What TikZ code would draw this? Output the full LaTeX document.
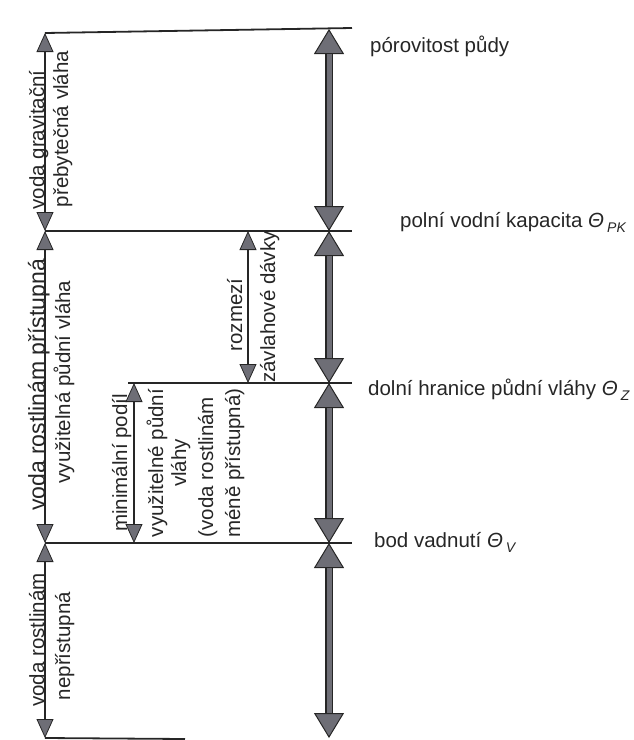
\documentclass[tikz,border=0pt]{standalone}
\usepackage{fontspec}
\setmainfont{Liberation Sans}
\usepackage{xcolor}
\usetikzlibrary{arrows.meta, positioning}

\definecolor{tipgray}{HTML}{6E6E76}
\definecolor{inkdark}{HTML}{262626}

\newcommand{\thetaidx}[1]{\textit{Θ}\hspace{3pt}\raisebox{-5.5pt}{\fontsize{14}{14}\selectfont\textit{#1}}}

\begin{document}
\begin{tikzpicture}[
  x=1pt, y=-1pt,
  font=\fontsize{20.5}{24}\selectfont,
  bigtip/.tip={Triangle[width=30pt, length=25pt, fill=tipgray, line width=1pt]},
  smalltip/.tip={Triangle[width=17pt, length=19pt, fill=tipgray, line width=0.8pt]},
  level/.style={draw=inkdark, line width=1.8pt},
  bigarr/.style={draw=inkdark, line width=8pt, bigtip-bigtip,
                 postaction={draw=tipgray, line width=5pt, -,
                             shorten <=25pt, shorten >=25pt}},
  smallarr/.style={draw=inkdark, line width=2pt, smalltip-smalltip},
  vlab/.style={rotate=90, anchor=base, inner sep=0pt, text=inkdark},
  hlab/.style={anchor=base west, inner sep=0pt, text=inkdark},
]
\useasboundingbox (0,0) rectangle (633,740);

%% ---------- Level coordinates -----------------------------------
\coordinate (l0) at (45,33);    % left scale
\coordinate (l1) at (45,231);
\coordinate (l3) at (45,543);
\coordinate (l4) at (45,738);
\coordinate (r0) at (329,29);   % right scale
\coordinate (r1) at (329,231);
\coordinate (r2) at (329,383);
\coordinate (r3) at (329,543);
\coordinate (r4) at (329,738);
\coordinate (e0) at (352,28);   % line ends
\coordinate (e1) at (352,231);
\coordinate (e2) at (352,383);
\coordinate (e3) at (352,543);
\coordinate (s2) at (128,383);
\coordinate (b4) at (185,739);
\coordinate (m1) at (248,231);  % irrigation range
\coordinate (m2) at (248,383);
\coordinate (n2) at (134,383);  % minimal share
\coordinate (n3) at (134,543);

%% ---------- Level lines -----------------------------------------
\draw[level] (l0) -- (e0);
\draw[level] (l1) -- (e1);
\draw[level] (s2) -- (e2);
\draw[level] (l3) -- (e3);
\draw[level] (l4) -- (b4);

%% ---------- Right scale -----------------------------------------
\draw[bigarr] (r0) -- (r1);
\draw[bigarr] (r1) -- (r2);
\draw[bigarr] (r2) -- (r3);
\draw[bigarr] (r3) -- (r4);

%% ---------- Left scale and inner ranges -------------------------
\draw[smallarr] (l0) -- (l1);
\draw[smallarr] (l1) -- (l3);
\draw[smallarr] (l3) -- (l4);
\draw[smallarr] (m1) -- (m2);
\draw[smallarr] (n2) -- (n3);

%% ---------- Level labels ----------------------------------------
\node[hlab] (por) at (370,52)  {pórovitost půdy};
\node[hlab] (pvk) at (400,227) {polní vodní kapacita \thetaidx{PK}};
\node[hlab] (dhv) at (368,395) {dolní hranice půdní vláhy \thetaidx{Z}};
\node[hlab] (bv)  at (374,547) {bod vadnutí \thetaidx{V}};

%% ---------- Rotated labels --------------------------------------
\node[vlab] (grav1) at (44,140) {voda gravitační};
\node[vlab] (grav2) at (68,129) {přebytečná vláha};
\node[vlab, font=\fontsize{23}{26}\selectfont] (prist1) at (45,385)
      {voda rostlinám přístupná};
\node[vlab] (prist2) at (70,382) {využitelná půdní vláha};
\node[vlab] (nepr1) at (44,640) {voda rostlinám};
\node[vlab] (nepr2) at (70,646) {nepřístupná};

\node[vlab] (dav1) at (242,315) {rozmezí};
\node[vlab] (dav2) at (275,307) {závlahové dávky};

\node[vlab] (min1) at (127,463) {minimální podíl};
\node[vlab] (min2) at (163,463) {využitelné půdní};
\node[vlab] (min3) at (186,463) {vláhy};
\node[vlab] (min4) at (213,467) {(voda rostlinám};
\node[vlab] (min5) at (240,463) {méně přístupná)};
\end{tikzpicture}
\end{document}
